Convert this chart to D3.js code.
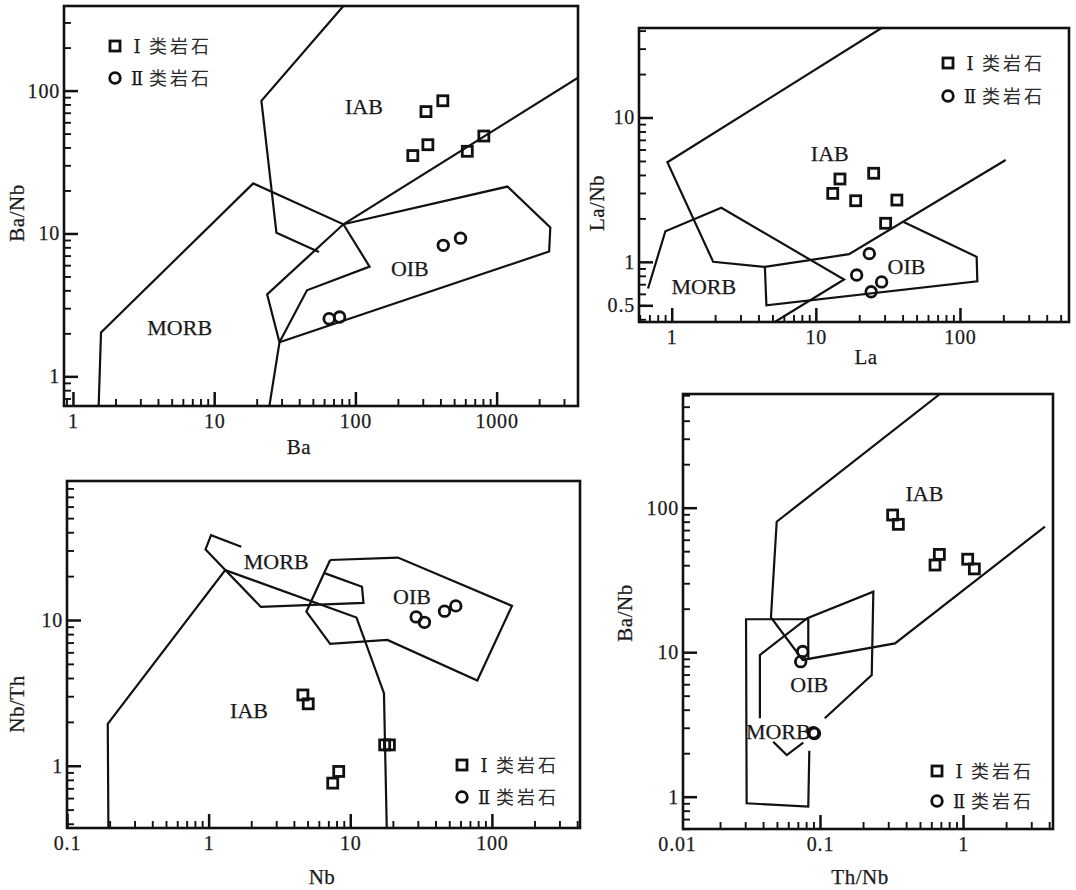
<!DOCTYPE html>
<html>
<head>
<meta charset="utf-8">
<script src="https://cdn.jsdelivr.net/npm/d3@7/dist/d3.min.js"></script>
<style>
  body { margin: 0; background: #fff; }
  svg { display: block; }
  .tick text { font-family: "Liberation Serif", "Times New Roman", serif; font-size: 20px; fill: #1a1a1a; letter-spacing: 0.8px; stroke: #1a1a1a; stroke-width: 0.25px; }
  .ink-text { stroke-width: 0.25px; }
</style>
</head>
<body>
<svg id="chart" width="1076" height="890"></svg>
<script>
// ---------- Ba vs Ba/Nb ----------
const p1TypeI  = [[255, 35.1], [316, 71.3], [416, 84.9], [326, 41.8], [620, 37.6], [812, 48.1]];
const p1TypeII = [[65.2, 2.53], [77.3, 2.6], [419, 8.26], [555, 9.27]];
const p1IabUpper = [[82.2, 391], [21.6, 84.9], [27.6, 10.1], [55.2, 7.41]];
const p1Divider  = [[3770, 123], [82.2, 11.6], [23.7, 3.75], [29.0, 1.73], [24.6, 0.62]];
const p1Oib      = [[82.2, 11.6], [1194, 21.3], [2400, 11.0], [2355, 7.48], [29.0, 1.73]];
const p1Morb     = [[1.52, 0.62], [1.58, 2.03], [18.9, 22.4], [82.2, 11.6], [126, 5.86], [45.4, 4.0], [29.0, 1.73]];
const p1Labels   = [["IAB", 115, 77], ["OIB", 243, 5.7], ["MORB", 5.7, 2.2]];
const p1XTicks = [1, 10, 100, 1000];
const p1YTicks = [1, 10, 100];

// ---------- La vs La/Nb ----------
const p2TypeI  = [[13.1, 2.98], [14.7, 3.75], [18.9, 2.65], [25.2, 4.11], [36.5, 2.68], [30.5, 1.85]];
const p2TypeII = [[23.5, 1.14], [19.2, 0.81], [28.6, 0.726], [24.2, 0.62]];
const p2IabBound = [[28.6, 41.7], [0.933, 4.90], [1.94, 1.0], [4.43, 0.923], [17.0, 1.13], [207.6, 5.08]];
const p2Oib      = [[4.43, 0.923], [4.54, 0.5], [132, 0.734], [130.6, 1.083], [40, 1.90]];
const p2Morb     = [[0.685, 0.653], [0.904, 1.63], [2.21, 2.37], [15.7, 0.754], [5.19, 0.383]];
const p2Labels   = [["IAB", 12.5, 5.65], ["OIB", 42.6, 0.923], ["MORB", 1.67, 0.67]];
const p2XTicks = [1, 10, 100];
const p2YTicks = [0.5, 1, 10];

// ---------- Nb vs Nb/Th ----------
const p3TypeI  = [[4.63, 3.06], [5.05, 2.66], [7.52, 0.76], [8.29, 0.914], [17.5, 1.39], [18.9, 1.39]];
const p3TypeII = [[29.2, 10.5], [33.4, 9.64], [46.3, 11.5], [55.6, 12.5]];
const p3IabBound = [[0.196, 0.374], [0.194, 1.94], [1.31, 22.0], [11.07, 10.4], [17.3, 3.15], [18.1, 0.374]];
const p3Morb     = [[1.70, 31.8], [1.04, 38.2], [0.951, 30.5], [2.34, 12.3], [12.4, 13.1], [12.1, 16.9], [6.65, 20.9]];
const p3Oib      = [[7.21, 25.8], [21.7, 26.8], [138.7, 12.5], [78.9, 3.84], [18.3, 7.30], [7.21, 6.85], [4.9, 11.4], [7.21, 25.8]];
const p3Labels   = [["MORB", 3.0, 25.1], ["OIB", 27.3, 14.4], ["IAB", 1.93, 2.39]];
const p3XTicks = [0.1, 1, 10, 100];
const p3YTicks = [1, 10];

// ---------- Th/Nb vs Ba/Nb ----------
const p4TypeI  = [[0.322, 89], [0.353, 76.7], [0.637, 40.1], [0.683, 47.5], [1.078, 44], [1.2, 37.7]];
const p4TypeII = [[0.0757, 10.1], [0.0733, 8.6], [0.0898, 2.77], [0.0915, 2.74]];
const p4IabBound = [[0.69, 612], [0.0498, 80], [0.0454, 17.4], [0.0757, 8.84], [0.3346, 11.5], [3.74, 74]];
const p4Oib      = [[0.038, 3.49], [0.038, 9.57], [0.0815, 17.2], [0.236, 26.2], [0.230, 6.95], [0.108, 3.49]];
const p4MorbBox  = [[0.0828, 8.83], [0.0828, 16.9], [0.0304, 16.9], [0.0307, 0.9], [0.0828, 0.853], [0.0842, 2.08]];
const p4MorbV    = [[0.0471, 2.40], [0.0585, 1.94], [0.0764, 2.37]];
const p4Labels   = [["IAB", 0.537, 125.6], ["OIB", 0.0842, 5.93], ["MORB", 0.0511, 2.82]];
const p4XTicks = [0.01, 0.1, 1];
const p4YTicks = [1, 10, 100];

const legendNames = ["Ⅰ", "Ⅱ"];
const legendText = "类岩石";

// ---------- layout ----------
const panels = [
  { frame: [64, 6, 578, 406], xDomain: [0.864, 3770], yDomain: [0.62, 391],
    xTicks: p1XTicks, yTicks: p1YTicks, fields: [p1IabUpper, p1Divider, p1Oib, p1Morb],
    labels: p1Labels, typeI: p1TypeI, typeII: p1TypeII,
    xTitle: ["Ba", 299, 454], yTitle: ["Ba/Nb", 24, 213], legend: [115, 46, 78] },
  { frame: [639, 28, 1069, 322], xDomain: [0.593, 571], yDomain: [0.383, 41.7],
    xTicks: p2XTicks, yTicks: p2YTicks, fields: [p2IabBound, p2Oib, p2Morb],
    labels: p2Labels, typeI: p2TypeI, typeII: p2TypeII,
    xTitle: ["La", 866, 364], yTitle: ["La/Nb", 604, 203], legend: [948, 63, 96] },
  { frame: [67, 481, 580, 828], xDomain: [0.1, 419], yDomain: [0.374, 89.9],
    xTicks: p3XTicks, yTicks: p3YTicks, fields: [p3IabBound, p3Morb, p3Oib],
    labels: p3Labels, typeI: p3TypeI, typeII: p3TypeII,
    xTitle: ["Nb", 322, 884], yTitle: ["Nb/Th", 24, 704], legend: [462, 765, 797] },
  { frame: [683, 394, 1053, 829], xDomain: [0.01102, 4.256], yDomain: [0.5976, 612],
    xTicks: p4XTicks, yTicks: p4YTicks, fields: [p4IabBound, p4Oib, p4MorbBox, p4MorbV],
    labels: p4Labels, typeI: p4TypeI, typeII: p4TypeII,
    xTitle: ["Th/Nb", 860, 884], yTitle: ["Ba/Nb", 632, 613], legend: [937, 771, 801] }
];

const INK = "#111";
const TEXT = "#1a1a1a";
const SERIF = '"Liberation Serif", "Times New Roman", serif';
const svg = d3.select("#chart");
svg.append("rect").attr("width", 1076).attr("height", 890).attr("fill", "#fff");

const isDecade = v => Math.abs(Math.log10(v) - Math.round(Math.log10(v))) < 1e-9;

function squareAt(g, cx, cy) {
  g.append("rect").attr("x", cx - 5).attr("y", cy - 5).attr("width", 10).attr("height", 10)
    .attr("fill", "none").attr("stroke", INK).attr("stroke-width", 2.8);
}
function circleAt(g, cx, cy) {
  g.append("circle").attr("cx", cx).attr("cy", cy).attr("r", 5.3)
    .attr("fill", "none").attr("stroke", INK).attr("stroke-width", 2.8);
}

panels.forEach((p, i) => {
  const [l, t, r, b] = p.frame;
  const x = d3.scaleLog().domain(p.xDomain).range([l, r]);
  const y = d3.scaleLog().domain(p.yDomain).range([b, t]);
  const g = svg.append("g");

  const clipId = "clip" + i;
  svg.append("clipPath").attr("id", clipId)
    .append("rect").attr("x", l).attr("y", t).attr("width", r - l).attr("height", b - t);

  // minor ticks, pointing inward
  const xMinor = x.ticks().filter(v => !isDecade(v));
  const yMinor = y.ticks().filter(v => !isDecade(v));
  g.append("g").attr("transform", `translate(0,${b})`)
    .call(d3.axisBottom(x).tickValues(xMinor).tickSize(-7).tickFormat(""))
    .call(a => a.select(".domain").remove())
    .call(a => a.selectAll("line").attr("stroke", INK).attr("stroke-width", 1.9));
  g.append("g").attr("transform", `translate(${l},0)`)
    .call(d3.axisLeft(y).tickValues(yMinor).tickSize(-7).tickFormat(""))
    .call(a => a.select(".domain").remove())
    .call(a => a.selectAll("line").attr("stroke", INK).attr("stroke-width", 1.9));

  // major ticks with labels
  const fmt = d => String(d);
  g.append("g").attr("transform", `translate(0,${b})`)
    .call(d3.axisBottom(x).tickValues(p.xTicks).tickSize(-14).tickPadding(8).tickFormat(fmt))
    .call(a => a.select(".domain").remove())
    .call(a => a.selectAll("line").attr("stroke", INK).attr("stroke-width", 2.5)
      .attr("display", d => (x(d) < l - 0.5 ? "none" : null)));
  g.append("g").attr("transform", `translate(${l},0)`)
    .call(d3.axisLeft(y).tickValues(p.yTicks).tickSize(-14).tickPadding(4).tickFormat(fmt))
    .call(a => a.select(".domain").remove())
    .call(a => a.selectAll("line").attr("stroke", INK).attr("stroke-width", 2.5));
  g.selectAll(".tick text").attr("font-family", null).attr("font-size", null);

  // field boundaries
  const line = d3.line().x(d => x(d[0])).y(d => y(d[1]));
  g.append("g").attr("clip-path", `url(#${clipId})`)
    .selectAll("path").data(p.fields).join("path")
    .attr("d", line).attr("fill", "none").attr("stroke", INK)
    .attr("stroke-width", 2.2).attr("stroke-linejoin", "miter");

  // field names
  g.selectAll("text.field").data(p.labels).join("text").attr("class", "field ink-text")
    .attr("x", d => x(d[1])).attr("y", d => y(d[2]) + 7.5)
    .attr("text-anchor", "middle").attr("font-family", SERIF).attr("font-size", 22)
    .attr("fill", TEXT).attr("stroke", TEXT).text(d => d[0]);

  // samples
  const marks = g.append("g");
  p.typeI.forEach(d => squareAt(marks, x(d[0]), y(d[1])));
  p.typeII.forEach(d => circleAt(marks, x(d[0]), y(d[1])));

  // legend
  const [lx, ly1, ly2] = p.legend;
  squareAt(g, lx, ly1);
  circleAt(g, lx, ly2);
  [ly1, ly2].forEach((ly, k) => {
    g.append("text").attr("class", "ink-text").attr("x", lx + 22).attr("y", ly + 6.5)
      .attr("text-anchor", "middle")
      .attr("font-family", '"DejaVu Serif", "Liberation Serif", serif').attr("font-size", 18)
      .attr("fill", TEXT).attr("stroke", TEXT).text(legendNames[k]);
    g.append("text").attr("x", lx + 34).attr("y", ly + 7)
      .attr("font-family", '"Noto Sans CJK SC", sans-serif').attr("font-size", 18)
      .attr("letter-spacing", 3).attr("fill", "#2a2a2a").text(legendText);
  });

  // axis titles
  g.append("text").attr("class", "ink-text").attr("x", p.xTitle[1]).attr("y", p.xTitle[2])
    .attr("text-anchor", "middle")
    .attr("font-family", SERIF).attr("font-size", 21).attr("letter-spacing", 0.5)
    .attr("fill", TEXT).attr("stroke", TEXT).text(p.xTitle[0]);
  g.append("text").attr("class", "ink-text")
    .attr("transform", `translate(${p.yTitle[1]},${p.yTitle[2]}) rotate(-90)`)
    .attr("text-anchor", "middle").attr("font-family", SERIF).attr("font-size", 21)
    .attr("letter-spacing", 0.5).attr("fill", TEXT).attr("stroke", TEXT).text(p.yTitle[0]);

  // frame
  g.append("rect").attr("x", l).attr("y", t).attr("width", r - l).attr("height", b - t)
    .attr("fill", "none").attr("stroke", INK).attr("stroke-width", 2.6);
});
</script>
</body>
</html>
